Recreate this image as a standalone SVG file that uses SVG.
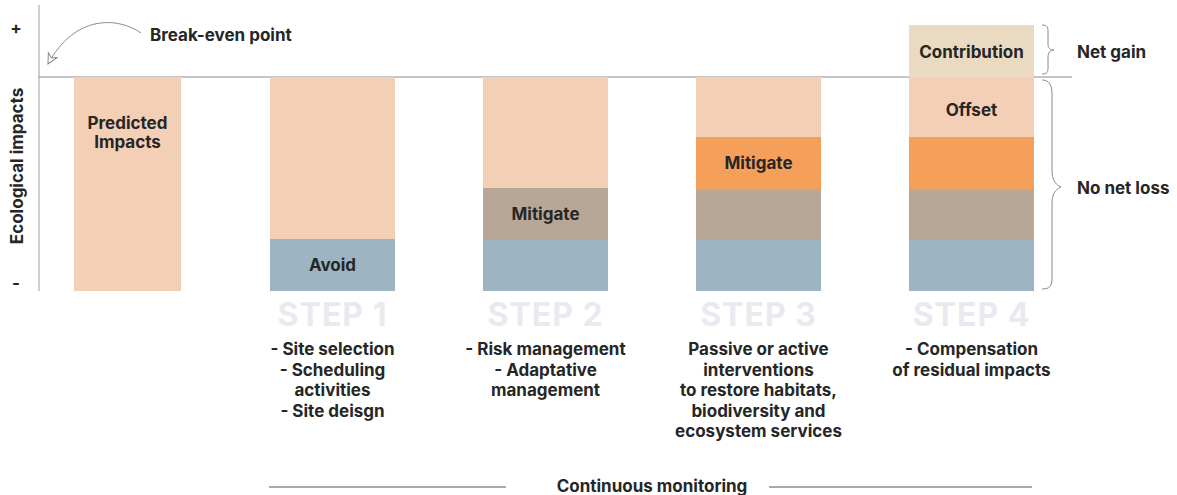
<svg xmlns="http://www.w3.org/2000/svg" width="1177" height="495" viewBox="0 0 1177 495">
<style>
text{font-family:Inter,Roboto,"Liberation Sans",sans-serif;font-weight:bold;fill:#262626;}
.lbl{font-size:17px;text-anchor:middle;}
.step{font-size:32px;letter-spacing:1px;text-anchor:middle;fill:#E9EAEF;}
.desc{font-size:17px;text-anchor:middle;}
.side{font-size:17px;}
.peach{fill:#F3CFB6;}
.blue{fill:#9DB4C2;}
.taupe{fill:#B8A797;}
.orange{fill:#F5A05A;}
.contrib{fill:#E9DAC1;}
.brace{fill:none;stroke:#8a8a8a;stroke-width:1;}
</style>
<defs>
<marker id="openArrow" markerWidth="14" markerHeight="14" refX="11" refY="6" orient="auto" markerUnits="userSpaceOnUse">
<path d="M1,1 L11,6 L1,11 L4,6 Z" fill="#fff" stroke="#8a8a8a" stroke-width="1" stroke-linejoin="miter"/>
</marker>
</defs>
<g id="axes">
<line x1="39" y1="5" x2="39" y2="291" stroke="#bdbdbd" stroke-width="1.5"/>
<line x1="39" y1="77" x2="1072" y2="77" stroke="#8a8a8a" stroke-width="1"/>
<text x="16" y="34" class="side" text-anchor="middle">+</text>
<text x="16" y="289" class="side" text-anchor="middle">-</text>
<text transform="translate(23,166) rotate(-90)" class="side" text-anchor="middle">Ecological impacts</text>
</g>
<g id="breakeven">
<text x="150" y="41" class="side">Break-even point</text>
</g>
<g id="bar0">
<rect x="74" y="77" width="107" height="214" class="peach"/>
<text x="127.5" y="129" class="lbl">Predicted</text>
<text x="127.5" y="148" class="lbl">Impacts</text>
</g>
<g id="bar1">
<rect x="270" y="77" width="125" height="162" class="peach"/>
<rect x="270" y="239" width="125" height="52" class="blue"/>
<text x="332.5" y="271" class="lbl">Avoid</text>
</g>
<g id="bar2">
<rect x="483" y="77" width="125" height="111" class="peach"/>
<rect x="483" y="188" width="125" height="52" class="taupe"/>
<rect x="483" y="240" width="125" height="51" class="blue"/>
<text x="545.5" y="220" class="lbl">Mitigate</text>
</g>
<g id="bar3">
<rect x="696" y="77" width="125" height="60" class="peach"/>
<rect x="696" y="137" width="125" height="52" class="orange"/>
<rect x="696" y="189" width="125" height="51" class="taupe"/>
<rect x="696" y="240" width="125" height="51" class="blue"/>
<text x="758.5" y="169" class="lbl">Mitigate</text>
</g>
<g id="bar4">
<rect x="909" y="25" width="125" height="52" class="contrib"/>
<rect x="909" y="77" width="125" height="60" class="peach"/>
<rect x="909" y="137" width="125" height="52" class="orange"/>
<rect x="909" y="189" width="125" height="51" class="taupe"/>
<rect x="909" y="240" width="125" height="51" class="blue"/>
<text x="971.5" y="58" class="lbl">Contribution</text>
<text x="971.5" y="116" class="lbl">Offset</text>
</g>
<g id="netgain">
<text x="1077" y="58" class="side">Net gain</text>
</g>
<g id="nonetloss">
<text x="1077" y="194" class="side">No net loss</text>
</g>
<g id="step1">
<text x="332.5" y="326" class="step">STEP 1</text>
<text x="332.5" y="355" class="desc">- Site selection</text>
<text x="332.5" y="375.5" class="desc">- Scheduling</text>
<text x="332.5" y="396" class="desc">activities</text>
<text x="332.5" y="416.5" class="desc">- Site deisgn</text>
</g>
<g id="step2">
<text x="545.5" y="326" class="step">STEP 2</text>
<text x="545.5" y="355" class="desc">- Risk management</text>
<text x="545.5" y="375.5" class="desc">- Adaptative</text>
<text x="545.5" y="396" class="desc">management</text>
</g>
<g id="step3">
<text x="758.5" y="326" class="step">STEP 3</text>
<text x="758.5" y="355" class="desc">Passive or active</text>
<text x="758.5" y="375.5" class="desc">interventions</text>
<text x="758.5" y="396" class="desc">to restore habitats,</text>
<text x="758.5" y="416.5" class="desc">biodiversity and</text>
<text x="758.5" y="437" class="desc">ecosystem services</text>
</g>
<g id="step4">
<text x="971.5" y="326" class="step">STEP 4</text>
<text x="971.5" y="355" class="desc">- Compensation</text>
<text x="971.5" y="375.5" class="desc">of residual impacts</text>
</g>
<g id="monitoring">
<line x1="269" y1="487" x2="506" y2="487" stroke="#555" stroke-width="1"/>
<line x1="769" y1="487" x2="1032" y2="487" stroke="#555" stroke-width="1"/>
<text x="652" y="492" class="desc">Continuous monitoring</text>
</g>
<g id="connectors">
<path d="M141,33 C118,17 75,14 48,64" fill="none" stroke="#8a8a8a" stroke-width="1" marker-end="url(#openArrow)"/>
<path class="brace" d="M1042,25 C1048,25 1048,28 1048,32 L1048,44 C1048,48 1050,50 1054,50 C1050,50 1048,53 1048,57 L1048,68 C1048,72 1047,74 1042,74"/>
<path class="brace" d="M1042,80 C1050,80 1052,86 1052,95 L1052,170 C1052,180 1055,184 1061,187 C1055,190 1052,194 1052,204 L1052,278 C1052,286 1050,289 1042,289"/>
</g>
</svg>
